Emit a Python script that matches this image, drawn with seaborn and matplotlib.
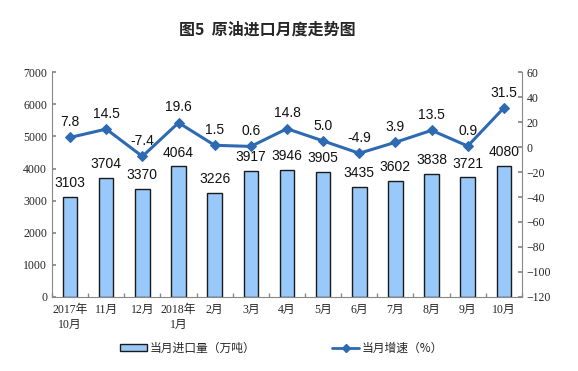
import numpy as np
import pandas as pd
import matplotlib
matplotlib.use("Agg")
import matplotlib.pyplot as plt
import seaborn as sns
from matplotlib.patches import Patch
from matplotlib.lines import Line2D

# datos
meses = ["2017年\n10月", "11月", "12月", "2018年\n1月", "2月", "3月", "4月",
         "5月", "6月", "7月", "8月", "9月", "10月"]
importacion = [3103, 3704, 3370, 4064, 3226, 3917, 3946, 3905, 3435, 3602, 3838, 3721, 4080]
crecimiento = [7.8, 14.5, -7.4, 19.6, 1.5, 0.6, 14.8, 5.0, -4.9, 3.9, 13.5, 0.9, 31.5]

sns.set_theme(style="white")
plt.rcParams['font.family'] = ['Noto Sans CJK SC', 'DejaVu Sans']

df = pd.DataFrame({"mes": meses, "imp": importacion, "crec": crecimiento,
                   "pos": np.arange(len(meses))})

color_barra = "#99C9FA"
color_linea = "#2E6AB2"
fuente_num = ['Liberation Serif', 'Noto Sans CJK SC']
fuente_dato = ['Liberation Sans', 'DejaVu Sans']

fig, ax = plt.subplots(figsize=(5.78, 3.71), dpi=100)
fig.subplots_adjust(left=0.09, right=0.903, top=0.805, bottom=0.2)

sns.barplot(data=df, x="mes", y="imp", color=color_barra, width=0.4,
            edgecolor="#1a1a1a", linewidth=1.0, saturation=1, ax=ax)
ax.set_ylim(0, 7000)
ax.set_yticks(range(0, 7001, 1000))
ax.set_xlim(-0.5, len(meses) - 0.5)
ax.set_xlabel("")
ax.set_ylabel("")
for i, v in enumerate(importacion):
    ax.annotate(str(v), (i, v), xytext=(0, 5), textcoords="offset points",
                ha="center", va="bottom", fontsize=10, family=fuente_dato, color="#111")

ax2 = ax.twinx()
sns.lineplot(data=df, x="pos", y="crec", color=color_linea, linewidth=2.2,
             marker="D", markersize=5, markeredgecolor=color_linea, ax=ax2)
ax2.set_ylim(-120, 60)
ax2.set_yticks(range(-120, 61, 20))
ax2.set_ylabel("")
ax2.set_xlabel("")
ax2.set_xlim(-0.5, len(meses) - 0.5)
for i, v in enumerate(crecimiento):
    ax2.annotate(f"{v:.1f}", (i, v), xytext=(0, 6), textcoords="offset points",
                 ha="center", va="bottom", fontsize=10, family=fuente_dato, color="#111")

# ejes
for a in (ax, ax2):
    a.spines["top"].set_visible(False)
    for s in ("left", "right", "bottom"):
        a.spines[s].set_color("#888888")
        a.spines[s].set_linewidth(0.8)
ax.spines["right"].set_visible(False)
ax2.spines["left"].set_visible(False)
ax2.spines["bottom"].set_visible(False)

ax.set_xticks(range(len(meses)))
ax.set_xticklabels(meses, fontsize=8.5, family=fuente_num, linespacing=1.3)
ax.set_xticks(np.arange(-0.5, len(meses), 1), minor=True)
ax.tick_params(axis="x", which="major", length=0, pad=5)
ax.tick_params(axis="x", which="minor", length=3, direction="in", color="#888888", bottom=True)
ax.tick_params(axis="y", length=3, direction="in", color="#888888", left=True, labelsize=8.5)
ax2.tick_params(axis="y", length=3, direction="in", color="#888888", right=True, labelsize=8.5)
for lab in ax.get_yticklabels() + ax2.get_yticklabels():
    lab.set_family(fuente_num)

fig.suptitle("图5  原油进口月度走势图", x=0.463, y=0.942, fontsize=11.5, fontweight="bold")

handles = [Patch(facecolor=color_barra, edgecolor="#1a1a1a", linewidth=1.0),
           Line2D([0], [0], color=color_linea, linewidth=2, marker="D", markersize=4)]
fig.legend(handles, ["当月进口量（万吨）", "当月增速（%）"], loc="lower center",
           bbox_to_anchor=(0.487, 0.015), ncol=2, frameon=False, fontsize=8.5,
           columnspacing=6.5, handlelength=2.3, handleheight=0.6, handletextpad=0.2)

fig.savefig("out.png", dpi=100)
